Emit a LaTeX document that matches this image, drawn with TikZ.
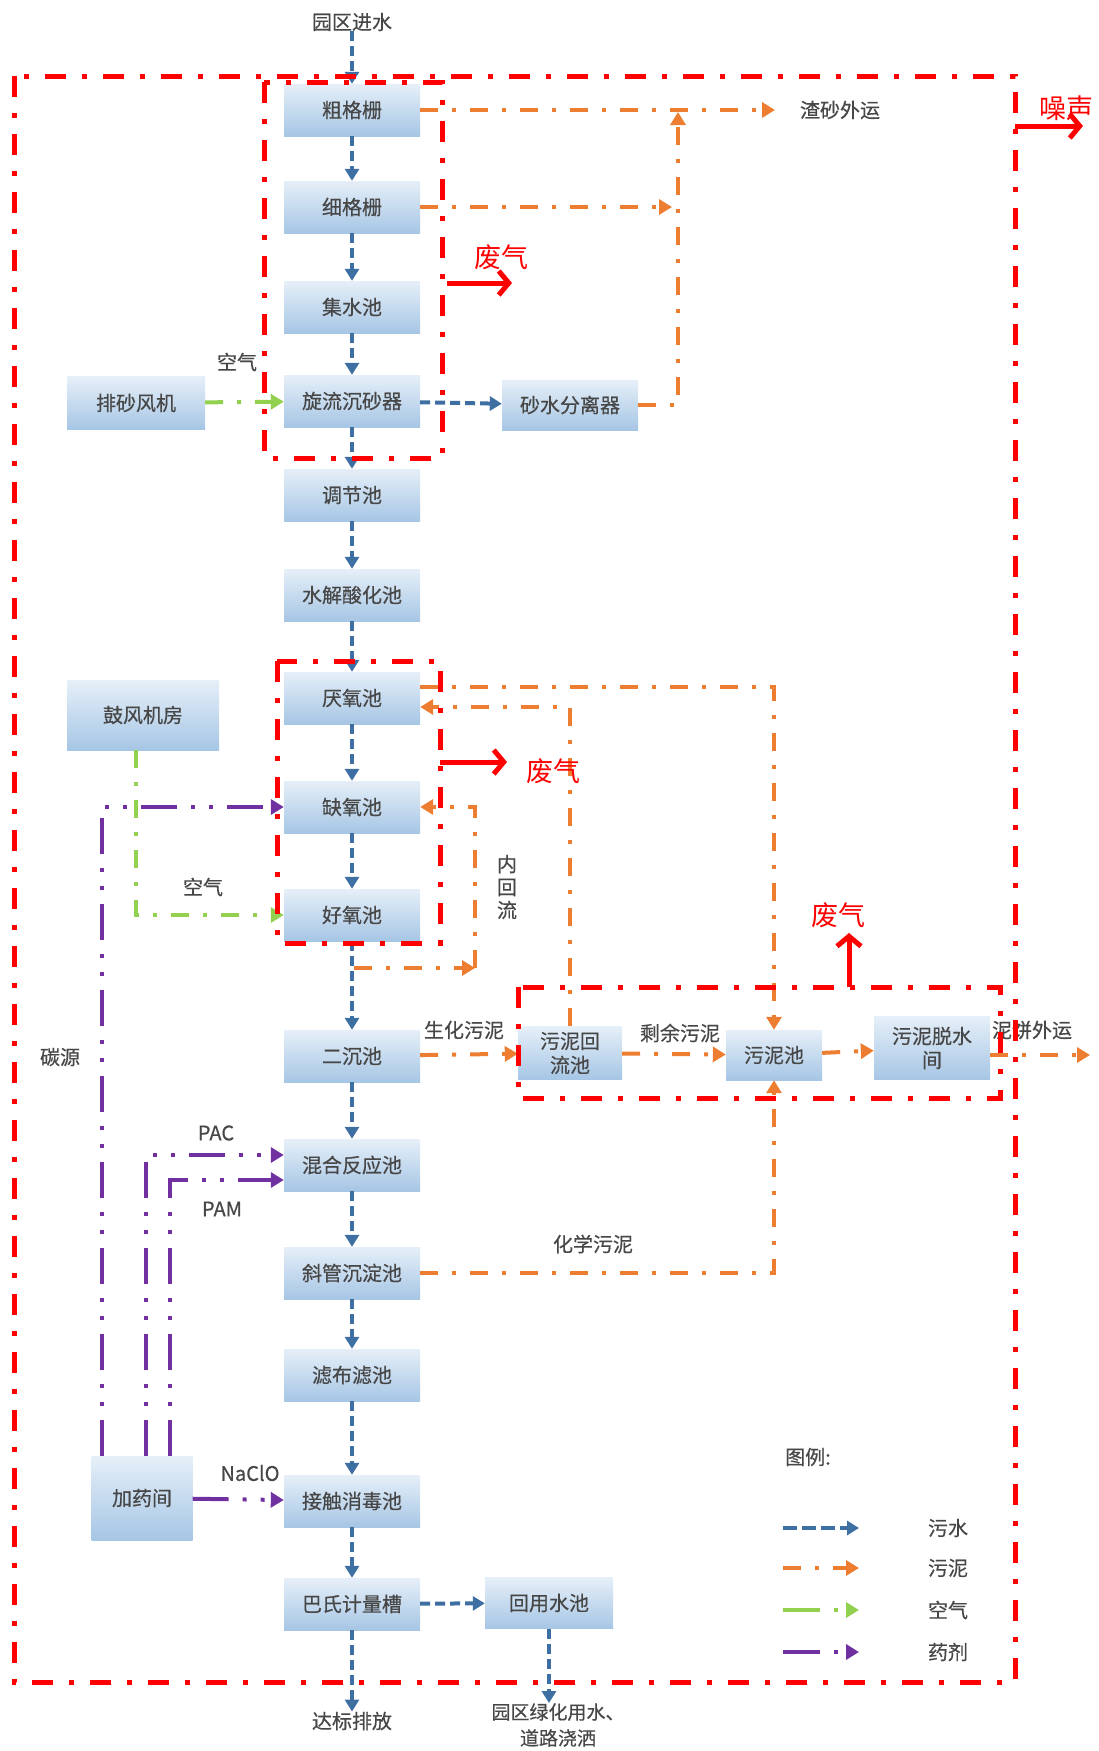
\documentclass[tikz,border=0pt]{standalone}
\usepackage{fontspec}
\setmainfont{Noto Sans CJK SC}
\newfontfamily\boxfont[FakeBold=0.5]{Noto Sans CJK SC}
\usetikzlibrary{arrows.meta}

\definecolor{sewage}{HTML}{3E6FA3}
\definecolor{sludge}{HTML}{ED7D31}
\definecolor{air}{HTML}{92D050}
\definecolor{dose}{HTML}{7030A0}
\definecolor{boxtop}{HTML}{E6EFF8}
\definecolor{boxbot}{HTML}{A6C6E5}

\tikzset{
  unit/.style={rectangle,minimum width=136pt,minimum height=52pt,top color=boxtop,bottom color=boxbot,
    text=black!72,font=\boxfont\fontsize{20}{24}\selectfont,inner sep=2pt,align=center},
  lbl/.style={text=black!72,font=\boxfont\fontsize{20}{24}\selectfont,inner sep=0pt,align=center},
  redlbl/.style={text=red,font=\fontsize{27}{30}\selectfont,inner sep=0pt},
  water/.style={draw=sewage,line width=4pt,dash pattern=on 10pt off 5pt,-{Triangle[length=12pt,width=14pt]}},
  mud/.style={draw=sludge,line width=4pt,dash pattern=on 18pt off 14pt on 4pt off 14pt,-{Triangle[length=13pt,width=15pt]}},
  gas/.style={draw=air,line width=4pt,dash pattern=on 18pt off 14pt on 4pt off 14pt,-{Triangle[length=13pt,width=15pt]}},
  drug/.style={draw=dose,line width=4pt,dash pattern=on 36pt off 14pt on 4pt off 14pt on 4pt off 14pt,-{Triangle[length=13pt,width=15pt]}},
  zone/.style={draw=red,line width=5pt,dash pattern=on 21pt off 16pt on 5pt off 16pt},
  emit/.style={draw=red,line width=5pt,-{Straight Barb[length=10pt,width=24pt]}}
}

\begin{document}
\begin{tikzpicture}[x=1pt,y=-1pt]
\useasboundingbox (0,0) rectangle (1099,1751);

% main line
\node[lbl] at (352,22) (inflow) {园区进水};
\node[unit] at (352,110) (coarse) {粗格栅};
\node[unit] at (352,207) (fine) {细格栅};
\node[unit] at (352,307) (sump) {集水池};
\node[unit] at (352,401) (grit) {旋流沉砂器};
\node[unit] at (352,495) (equal) {调节池};
\node[unit] at (352,595) (hydro) {水解酸化池};
\node[unit] at (352,698) (anaer) {厌氧池};
\node[unit] at (352,807) (anox) {缺氧池};
\node[unit] at (352,915) (oxic) {好氧池};
\node[unit] at (352,1056) (clar) {二沉池};
\node[unit] at (352,1165) (mix) {混合反应池};
\node[unit] at (352,1273) (tube) {斜管沉淀池};
\node[unit] at (352,1375) (filt) {滤布滤池};
\node[unit] at (352,1501) (disinf) {接触消毒池};
\node[unit] at (352,1604) (flume) {巴氏计量槽};
\node[lbl] at (352,1721) (outflow) {达标排放};

% side units
\node[unit,minimum width=138pt,minimum height=53pt] at (136,403) (sandfan) {排砂风机};
\node[unit,minimum height=50pt] at (570,405) (sep) {砂水分离器};
\node[unit,minimum width=152pt,minimum height=70pt] at (143,715) (blower) {鼓风机房};
\node[unit,minimum width=101pt,minimum height=84pt] at (142,1498) (dosing) {加药间};
\node[unit,minimum width=104pt,minimum height=53pt,inner sep=0pt] at (570,1053) (ret) {污泥回\\流池};
\node[unit,minimum width=96pt,minimum height=50pt] at (774,1055) (sludge) {污泥池};
\node[unit,minimum width=116pt,minimum height=63pt,inner sep=0pt] at (932,1048) (dewat) {污泥脱水\\间};
\node[unit,minimum width=128pt,minimum height=51pt] at (549,1603) (reuse) {回用水池};

% labels
\node[lbl] at (840,110) (slag) {渣砂外运};
\node[lbl] at (237,362) (air1) {空气};
\node[lbl] at (203,887) (air2) {空气};
\node[lbl] at (60,1057) (carbon) {碳源};
\node[lbl] at (507,887) (inner) {内\\[-1pt]回\\[-1pt]流};
\node[lbl] at (464,1030) (biosl) {生化污泥};
\node[lbl] at (680,1033) (excess) {剩余污泥};
\node[lbl] at (593,1244) (chemsl) {化学污泥};
\node[lbl] at (1032,1030) (cake) {泥饼外运};
\node[lbl] at (216,1133) (pac) {PAC};
\node[lbl] at (222,1209) (pam) {PAM};
\node[lbl] at (250,1473) (naclo) {NaClO};
\node[lbl,font=\boxfont\fontsize{19}{26}\selectfont] at (558,1725) (green) {园区绿化用水、\\道路浇洒};

% sewage
\draw[water] (inflow) -- (coarse);
\draw[water] (coarse) -- (fine);
\draw[water] (fine) -- (sump);
\draw[water] (sump) -- (grit);
\draw[water] (grit) -- (equal);
\draw[water] (equal) -- (hydro);
\draw[water] (hydro) -- (anaer);
\draw[water] (anaer) -- (anox);
\draw[water] (anox) -- (oxic);
\draw[water] (oxic) -- (clar);
\draw[water] (clar) -- (mix);
\draw[water] (mix) -- (tube);
\draw[water] (tube) -- (filt);
\draw[water] (filt) -- (disinf);
\draw[water] (disinf) -- (flume);
\draw[water] (flume) -- (outflow);
\draw[water] (grit) -- (sep);
\draw[water] (flume) -- (reuse);
\draw[water] (reuse.south) -- (reuse.south |- green.north);

% sludge
\coordinate (slagtip) at (775,110);
\coordinate (riser) at (678,112);
\draw[mud] (coarse) -- (slagtip);
\draw[mud,shorten >=6pt] (fine.east) -- (fine.east -| riser);
\draw[mud] (sep.east) -| (riser);
\draw[mud] ([yshift=11pt]anaer.east) -| (sludge.north);
\draw[mud] (ret.north) |- ([yshift=-9pt]anaer.east);
\coordinate (rc1) at (354,968);
\coordinate (rc2) at (475,968);
\draw[mud] (rc1) -- (rc2);
\draw[mud] (rc2) |- (anox.east);
\draw[mud] (clar) -- (ret);
\draw[mud] (ret) -- (sludge);
\draw[mud] (sludge) -- (dewat);
\coordinate (caketip) at (1090,1055);
\draw[mud] (dewat.east |- caketip) -- (caketip);
\draw[mud] (tube.east) -| (sludge.south);

% air
\draw[gas] (sandfan) -- (grit);
\draw[gas] ([xshift=-7pt]blower.south) |- (oxic.west);

% dosing
\draw[drug] ([xshift=-40pt]dosing.north) |- (anox.west);
\draw[drug] ([xshift=4pt]dosing.north) |- ([yshift=10pt]mix.west);
\draw[drug] ([xshift=28pt]dosing.north) |- ([yshift=-15pt]mix.west);
\draw[drug] (dosing) -- (disinf);

% zones
\draw[zone] (14,76) rectangle (1015,1682);
\draw[zone] (264,82) rectangle (442,458);
\draw[zone] (277,661) rectangle (440,943);
\draw[zone] (518,987) rectangle (1000,1098);

% emissions
\node[redlbl] at (501,257) (gas1) {废气};
\node[redlbl] at (553,771) (gas2) {废气};
\node[redlbl] at (838,915) (gas3) {废气};
\node[redlbl] at (1066,108) (noise) {噪声};
\coordinate (e1) at (447,283);
\coordinate (e1t) at (512,283);
\coordinate (e2) at (440,762);
\coordinate (e2t) at (507,762);
\coordinate (e3) at (849,987);
\coordinate (e3t) at (849,933);
\coordinate (e4) at (1015,126);
\coordinate (e4t) at (1083,126);
\draw[emit] (e1) -- (e1t);
\draw[emit] (e2) -- (e2t);
\draw[emit] (e3) -- (e3t);
\draw[emit] (e4) -- (e4t);

% legend
\node[lbl] at (808,1457) (legend) {图例:};
\node[lbl] at (948,1528) (lw) {污水};
\node[lbl] at (948,1568) (ls) {污泥};
\node[lbl] at (948,1610) (la) {空气};
\node[lbl] at (948,1652) (ld) {药剂};
\coordinate (lw0) at (783,1528);
\coordinate (ls0) at (783,1568);
\coordinate (la0) at (783,1610);
\coordinate (ld0) at (783,1652);
\draw[water,dash pattern=on 14pt off 5pt] (lw0) -- +(76,0);
\draw[mud] (ls0) -- +(76,0);
\draw[gas,dash pattern=on 37pt off 14pt on 4pt off 14pt] (la0) -- +(76,0);
\draw[drug,dash pattern=on 37pt off 14pt on 4pt off 14pt] (ld0) -- +(76,0);
\end{tikzpicture}
\end{document}
